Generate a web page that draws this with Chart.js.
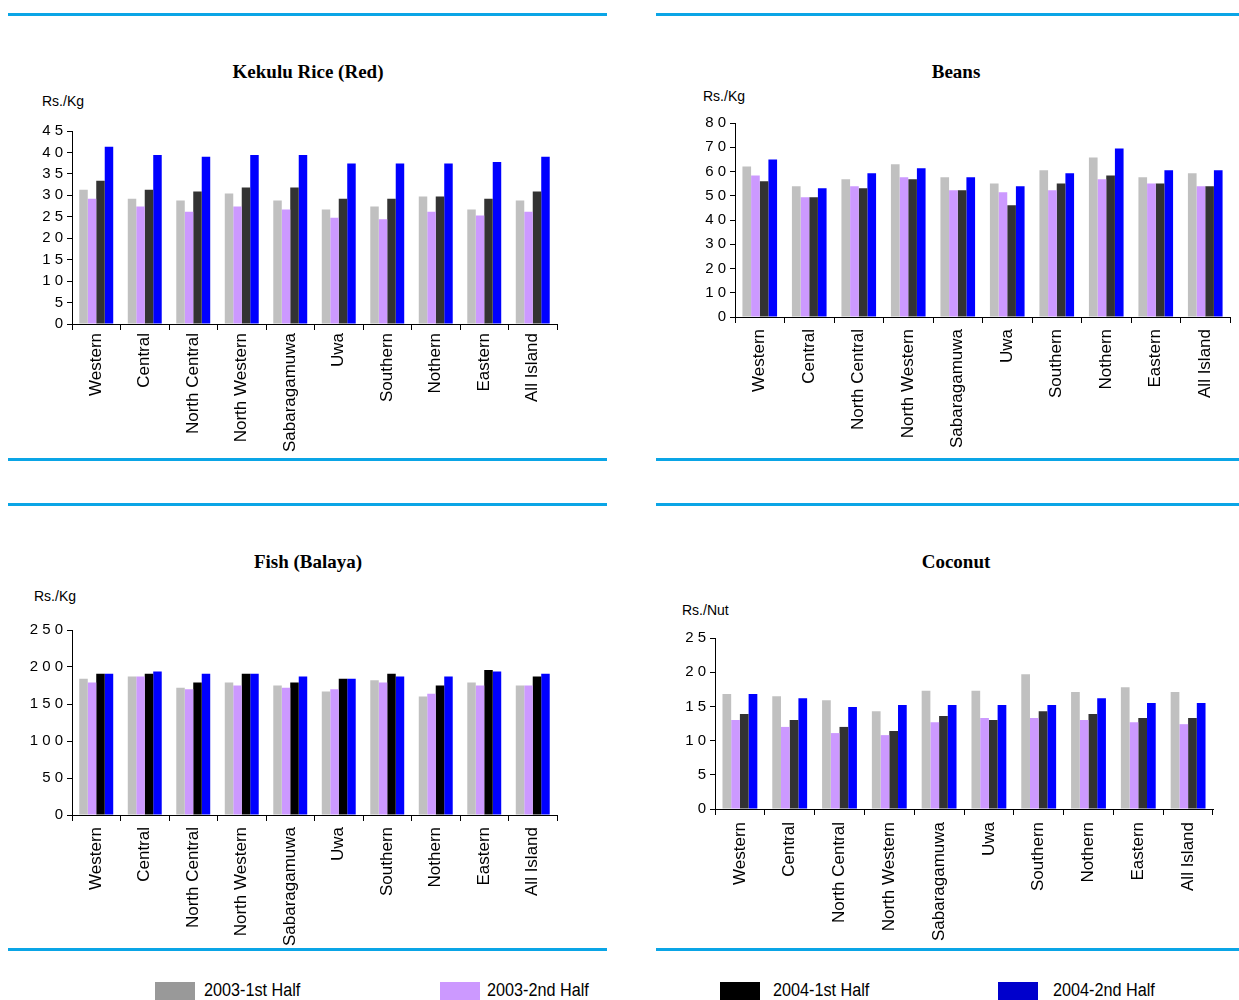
<!DOCTYPE html>
<html>
<head>
<meta charset="utf-8">
<script src="https://cdn.jsdelivr.net/npm/chart.js@4/dist/chart.umd.min.js"></script>
<style>
  body { margin: 0; background: #fff; width: 1239px; height: 1000px; position: relative; overflow: hidden; font-family: Arial, "Liberation Sans", sans-serif; }
  .rule { position: absolute; height: 3px; background: #0AA5E6; }
  .title { position: absolute; width: 400px; text-align: center; font: bold 19px "Liberation Serif", "Times New Roman", serif; color: #000; }
  .unit { position: absolute; font-size: 14px; color: #000; }
  canvas { position: absolute; }
  .key { position: absolute; top: 982px; width: 40px; height: 18px; }
  .keytxt { position: absolute; top: 980px; font: 18px "Liberation Sans Narrow", "Arial Narrow", Arial, sans-serif; color: #000; transform: scaleX(0.9); transform-origin: left center; }
</style>
</head>
<body>

<!-- panel rules -->
<div class="rule" style="left:8px;top:13px;width:599px"></div>
<div class="rule" style="left:8px;top:458px;width:599px"></div>
<div class="rule" style="left:656px;top:13px;width:583px"></div>
<div class="rule" style="left:656px;top:458px;width:583px"></div>
<div class="rule" style="left:8px;top:503px;width:599px"></div>
<div class="rule" style="left:8px;top:948px;width:599px"></div>
<div class="rule" style="left:656px;top:503px;width:583px"></div>
<div class="rule" style="left:656px;top:948px;width:583px"></div>

<div class="title" style="left:108px;top:61px">Kekulu Rice (Red)</div>
<div class="title" style="left:756px;top:61px">Beans</div>
<div class="title" style="left:108px;top:551px">Fish (Balaya)</div>
<div class="title" style="left:756px;top:551px">Coconut</div>

<div class="unit" style="left:42px;top:93px">Rs./Kg</div>
<div class="unit" style="left:703px;top:88px">Rs./Kg</div>
<div class="unit" style="left:34px;top:588px">Rs./Kg</div>
<div class="unit" style="left:682px;top:602px">Rs./Nut</div>

<canvas id="rice"></canvas>
<canvas id="beans"></canvas>
<canvas id="fish"></canvas>
<canvas id="coconut"></canvas>

<div class="key" style="left:155px;background:#999999"></div>
<div class="keytxt" style="left:204px">2003-1st Half</div>
<div class="key" style="left:440px;background:#CC99FF"></div>
<div class="keytxt" style="left:487px">2003-2nd Half</div>
<div class="key" style="left:720px;background:#000000"></div>
<div class="keytxt" style="left:773px">2004-1st Half</div>
<div class="key" style="left:998px;background:#0000CC"></div>
<div class="keytxt" style="left:1053px">2004-2nd Half</div>

<script>
// ── Data ─────────────────────────────────────────────
const regions = ['Western', 'Central', 'North Central', 'North Western', 'Sabaragamuwa',
                 'Uwa', 'Southern', 'Nothern', 'Eastern', 'All Island']
const seriesNames = ['2003-1st Half', '2003-2nd Half', '2004-1st Half', '2004-2nd Half']

const rice2003a = [31.3, 29.2, 28.8, 30.4, 28.8, 26.7, 27.4, 29.7, 26.7, 28.8]
const rice2003b = [29.2, 27.4, 26.2, 27.4, 26.7, 24.8, 24.4, 26.2, 25.3, 26.2]
const rice2004a = [33.4, 31.3, 30.9, 31.8, 31.8, 29.2, 29.2, 29.7, 29.2, 30.9]
const rice2004b = [41.3, 39.4, 39.0, 39.4, 39.4, 37.4, 37.4, 37.4, 37.8, 39.0]

const beans2003a = [62.1, 53.9, 56.8, 63.0, 57.6, 55.1, 60.5, 65.8, 57.6, 59.3]
const beans2003b = [58.4, 49.4, 53.9, 57.6, 52.3, 51.4, 52.3, 56.8, 55.1, 53.9]
const beans2004a = [56.0, 49.4, 53.1, 56.8, 52.3, 46.1, 55.1, 58.4, 55.1, 53.9]
const beans2004b = [65.0, 53.1, 59.3, 61.3, 57.6, 53.9, 59.3, 69.5, 60.5, 60.5]

const fish2003a = [184, 187, 172, 179, 175, 167, 182, 160, 179, 175]
const fish2003b = [179, 187, 170, 175, 172, 170, 179, 164, 175, 175]
const fish2004a = [191, 191, 179, 191, 179, 184, 191, 175, 196, 187]
const fish2004b = [191, 194, 191, 191, 187, 184, 187, 187, 194, 191]

const coco2003a = [16.8, 16.5, 15.9, 14.3, 17.3, 17.3, 19.7, 17.1, 17.8, 17.1]
const coco2003b = [13.0, 12.0, 11.1, 10.8, 12.7, 13.3, 13.3, 13.0, 12.7, 12.4]
const coco2004a = [13.9, 13.0, 12.0, 11.4, 13.6, 13.0, 14.3, 13.9, 13.3, 13.3]
const coco2004b = [16.8, 16.2, 14.9, 15.2, 15.2, 15.2, 15.2, 16.2, 15.5, 15.5]

// ── Chart builder ────────────────────────────────────
// box: canvas placement, yW / xH: fixed axis sizes so the plot area lands where the original has it
function makeChart(id, series, darkColor, yMax, step, box) {
  const canvas = document.getElementById(id)
  canvas.style.left = box.left + 'px'
  canvas.style.top  = box.top + 'px'
  canvas.style.width  = box.width + 'px'
  canvas.style.height = box.height + 'px'
  canvas.width  = box.width
  canvas.height = box.height

  const colors = ['#C0C0C0', '#CC99FF', darkColor, '#0000FF']

  new Chart(canvas, {
    type: 'bar',
    data: {
      labels: regions,
      datasets: series.map((vals, i) => ({
        label: seriesNames[i],
        data: vals,
        backgroundColor: colors[i],
        borderWidth: 0,
        barPercentage: 1.0,
        categoryPercentage: 0.7,
      })),
    },
    options: {
      responsive: false,
      animation: false,
      layout: { padding: { top: box.padTop, right: box.padRight, left: 0, bottom: 0 } },
      plugins: { legend: { display: false }, tooltip: { enabled: false } },
      scales: {
        x: {
          grid: { display: true, offset: true, drawOnChartArea: false, drawTicks: true, tickLength: 6, color: '#000' },
          border: { display: true, color: '#000', width: 1 },
          ticks: {
            color: '#000',
            font: { family: 'Arial, "Liberation Sans"', size: 17 },
            minRotation: 90,
            maxRotation: 90,
            padding: box.labelPad,
            autoSkip: false,
          },
          afterFit: (scale) => { scale.height = box.xH },
        },
        y: {
          min: 0,
          max: yMax,
          grid: { display: true, drawOnChartArea: false, drawTicks: true, tickLength: 5, color: '#000' },
          border: { display: true, color: '#000', width: 1 },
          ticks: {
            stepSize: step,
            color: '#000',
            font: { family: 'Arial, "Liberation Sans"', size: 15 },
            padding: 4,
            callback: (v) => String(v).split('').join(' '),
          },
          afterFit: (scale) => { scale.width = box.yW },
        },
      },
    },
  })
}

makeChart('rice', [rice2003a, rice2003b, rice2004a, rice2004b], '#333333', 45, 5,
  { left: 8, top: 118, width: 570, height: 337, yW: 64, xH: 131, padTop: 9, padRight: 21, labelPad: 3 })
makeChart('beans', [beans2003a, beans2003b, beans2004a, beans2004b], '#333333', 80, 10,
  { left: 656, top: 110, width: 583, height: 345, yW: 79, xH: 138, padTop: 9, padRight: 9, labelPad: 6 })
makeChart('fish', [fish2003a, fish2003b, fish2004a, fish2004b], '#000000', 250, 50,
  { left: 8, top: 617, width: 570, height: 332, yW: 64, xH: 134, padTop: 9, padRight: 21, labelPad: 6 })
makeChart('coconut', [coco2003a, coco2003b, coco2004a, coco2004b], '#333333', 25, 5,
  { left: 656, top: 625, width: 580, height: 324, yW: 59, xH: 140, padTop: 9, padRight: 23, labelPad: 7 })
</script>
</body>
</html>
